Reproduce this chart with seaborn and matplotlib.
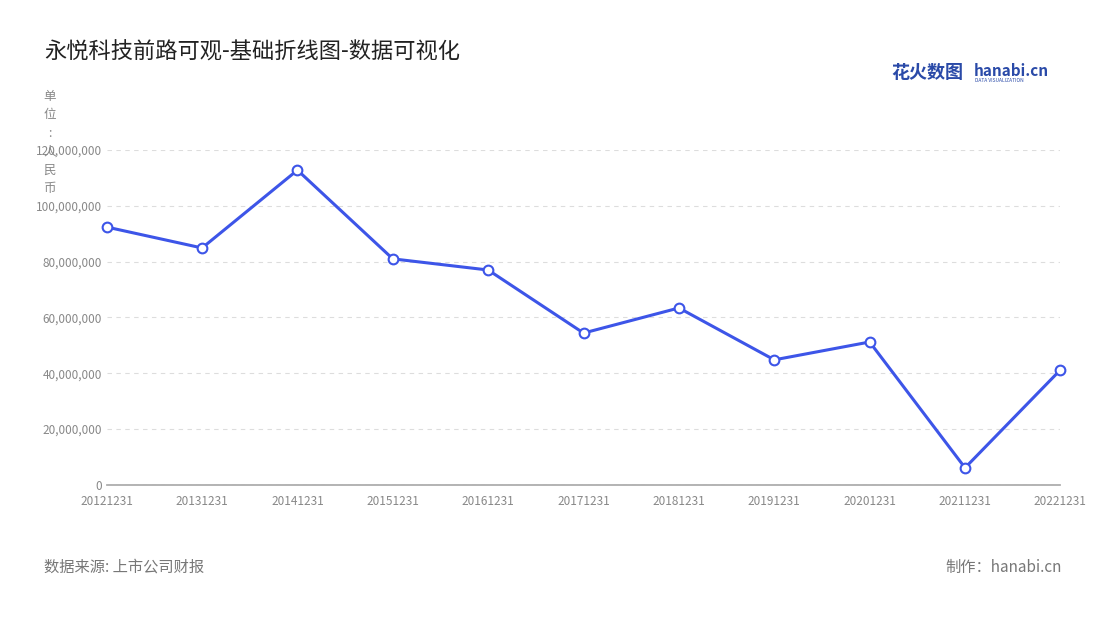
import matplotlib
matplotlib.use("Agg")
import matplotlib.pyplot as plt
import seaborn as sns
import pandas as pd
from matplotlib.ticker import FuncFormatter

# Data
dates = ["20121231", "20131231", "20141231", "20151231", "20161231", "20171231",
         "20181231", "20191231", "20201231", "20211231", "20221231"]
values = [92.4e6, 84.9e6, 112.8e6, 81.0e6, 77.0e6, 54.4e6,
          63.4e6, 44.8e6, 51.2e6, 6.1e6, 41.2e6]

df = pd.DataFrame({"date": dates, "value": values, "pos": range(len(dates))})

sns.set_theme(style="white")
plt.rcParams['font.family'] = ['Noto Sans CJK SC', 'DejaVu Sans']

fig = plt.figure(figsize=(11, 6.2), dpi=100)
ax = fig.add_axes([0.097, 0.218, 0.867, 0.54])

sns.lineplot(data=df, x="pos", y="value", ax=ax, color="#3d55e8", linewidth=2.2,
             marker="o", markersize=7, markerfacecolor="white",
             markeredgecolor="#3d55e8", markeredgewidth=1.5, clip_on=False, zorder=5)

ax.set_xlim(0, len(dates) - 1)
ax.set_ylim(0, 120e6)
ax.set_xticks(df["pos"])
ax.set_xticklabels(dates)
ax.set_yticks([0, 20e6, 40e6, 60e6, 80e6, 100e6, 120e6])
ax.yaxis.set_major_formatter(FuncFormatter(lambda v, p: f"{int(v):,}"))
ax.tick_params(axis="both", labelsize=8.5, colors="#888888", length=0)
ax.tick_params(axis="x", length=4, color="#aaaaaa")
ax.set_xlabel("")
ax.set_ylabel("")
ax.yaxis.grid(True, linestyle=(0, (4, 4)), color="#dddddd", linewidth=0.8)
for s in ["top", "right", "left"]:
    ax.spines[s].set_visible(False)
ax.spines["bottom"].set_color("#aaaaaa")

fig.text(0.04, 0.905, "永悦科技前路可观-基础折线图-数据可视化", fontsize=16, color="#222222")
fig.text(0.045, 0.855, "单\n位\n:\n人\n民\n币", fontsize=9, color="#888888",
         va="top", ha="center", linespacing=1.55)
fig.text(0.04, 0.078, "数据来源: 上市公司财报", fontsize=11, color="#777777")
fig.text(0.965, 0.078, "制作：hanabi.cn", fontsize=11, color="#777777", ha="right")
fig.text(0.81, 0.875, "花火数图", fontsize=13, color="#2a4aa8", fontweight="bold")
fig.text(0.885, 0.878, "hanabi.cn", fontsize=11, color="#2a4aa8", fontweight="bold")
fig.text(0.886, 0.868, "DATA VISUALIZATION", fontsize=3.5, color="#2a4aa8")

fig.savefig("out.png", dpi=100)
